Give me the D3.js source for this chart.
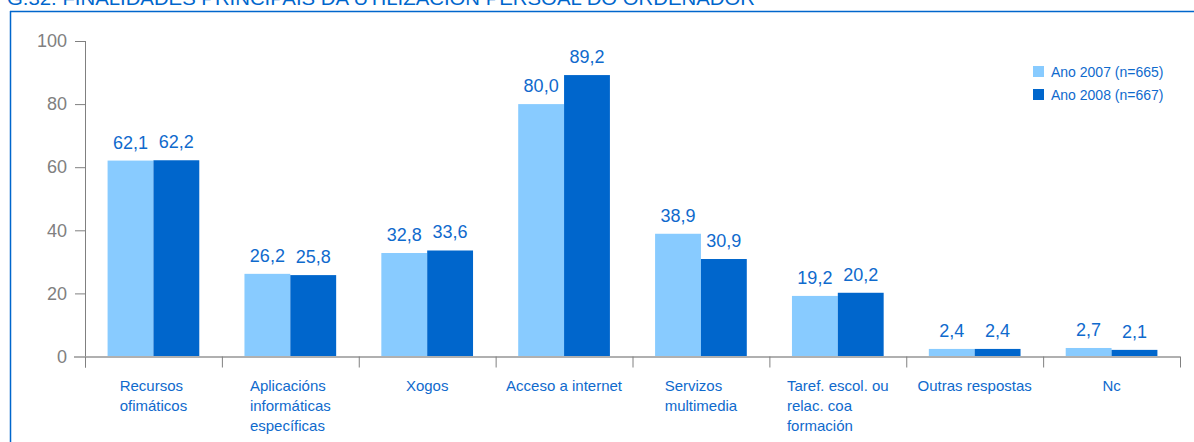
<!DOCTYPE html>
<html>
<head>
<meta charset="utf-8">
<script src="https://cdnjs.cloudflare.com/ajax/libs/d3/7.8.5/d3.min.js"></script>
<style>
  html, body { margin: 0; padding: 0; background: #fff; }
  svg { display: block; font-family: "Liberation Sans", Arial, sans-serif; }
</style>
</head>
<body>
<svg id="chart" width="1194" height="442"></svg>
<script>
const title = "G.32. FINALIDADES PRINCIPAIS DA UTILIZACIÓN PERSOAL DO ORDENADOR";
const categories = [
  ["Recursos", "ofimáticos"],
  ["Aplicacións", "informáticas", "específicas"],
  ["Xogos"],
  ["Acceso a internet"],
  ["Servizos", "multimedia"],
  ["Taref. escol. ou", "relac. coa", "formación"],
  ["Outras respostas"],
  ["Nc"]
];
const seriesNames = ["Ano 2007 (n=665)", "Ano 2008 (n=667)"];
const values2007 = [62.1, 26.2, 32.8, 80.0, 38.9, 19.2, 2.4, 2.7];
const values2008 = [62.2, 25.8, 33.6, 89.2, 30.9, 20.2, 2.4, 2.1];
const yTicks = [0, 20, 40, 60, 80, 100];

const colors = ["#88CBFF", "#0066CC"];
const textBlue = "#0F6ACD";
const gray = "#808080";

const svg = d3.select("#chart");

// frame + title
svg.append("text").attr("x", 7).attr("y", 5)
  .attr("font-size", 18).attr("fill", "#0066CC")
  .attr("textLength", 748).attr("lengthAdjust", "spacingAndGlyphs")
  .text(title);
svg.append("line").attr("x1", 10).attr("x2", 1194).attr("y1", 11.5).attr("y2", 11.5)
  .attr("stroke", "#0066CC").attr("stroke-width", 1.5);
svg.append("line").attr("x1", 10.5).attr("x2", 10.5).attr("y1", 11).attr("y2", 442)
  .attr("stroke", "#0066CC").attr("stroke-width", 1.5);

const left = 85, right = 1180, y0 = 356.5, y100 = 41;
const idx = d3.range(categories.length);
const x0 = d3.scaleBand().domain(idx).range([left, right]).paddingInner(0.33).paddingOuter(0.165);
const x1 = d3.scaleBand().domain([0, 1]).range([0, x0.bandwidth()]);
const y = d3.scaleLinear().domain([0, 100]).range([y0, y100]);

// y axis
const yAxis = d3.axisLeft(y).tickValues(yTicks).tickSize(10).tickPadding(8).tickFormat(d3.format("d"));
const gy = svg.append("g").attr("transform", `translate(${left},0)`).call(yAxis);
gy.select(".domain").remove();
gy.selectAll(".tick line").attr("stroke", gray);
gy.selectAll(".tick text").attr("fill", gray).attr("font-size", 18)
  .attr("font-family", "'Liberation Sans', Arial, sans-serif");
svg.append("line").attr("x1", left + 0.5).attr("x2", left + 0.5).attr("y1", y100).attr("y2", y0 + 11)
  .attr("stroke", gray).attr("stroke-width", 1);

// bars
const series = [values2007, values2008];
series.forEach((vals, s) => {
  svg.append("g").selectAll("rect").data(idx).join("rect")
    .attr("x", i => x0(i) + x1(s))
    .attr("width", x1.bandwidth())
    .attr("y", i => y(vals[i]))
    .attr("height", i => y(0) - y(vals[i]))
    .attr("fill", colors[s]);
  svg.append("g").selectAll("text").data(idx).join("text")
    .attr("x", i => x0(i) + x1(s) + x1.bandwidth() / 2)
    .attr("y", i => y(vals[i]) - 12)
    .attr("text-anchor", "middle")
    .attr("font-size", 18).attr("fill", textBlue)
    .text(i => d3.format(".1f")(vals[i]).replace(".", ","));
});

// x axis
svg.append("line").attr("x1", 74).attr("x2", right).attr("y1", y0 + 0.5).attr("y2", y0 + 0.5)
  .attr("stroke", "#B0B0B0").attr("stroke-width", 2);
const step = x0.step();
svg.append("g").selectAll("line").data(d3.range(categories.length + 1)).join("line")
  .attr("x1", i => left + i * step + 0.5).attr("x2", i => left + i * step + 0.5)
  .attr("y1", y0).attr("y2", y0 + 11)
  .attr("stroke", gray);

// category labels: centered block, left-aligned lines
const tmp = svg.append("text").attr("font-size", 15).attr("visibility", "hidden");
idx.forEach(i => {
  const lines = categories[i];
  let maxW = 0;
  lines.forEach(l => { tmp.text(l); maxW = Math.max(maxW, tmp.node().getComputedTextLength()); });
  const cx = left + (i + 0.5) * step;
  const t = svg.append("text").attr("font-size", 15).attr("fill", textBlue);
  lines.forEach((l, k) => {
    t.append("tspan").attr("x", cx - maxW / 2).attr("y", 391 + k * 20).text(l);
  });
});
tmp.remove();

// legend
seriesNames.forEach((n, s) => {
  svg.append("rect").attr("x", 1033).attr("y", 66 + s * 23).attr("width", 11).attr("height", 11)
    .attr("fill", colors[s]);
  svg.append("text").attr("x", 1051).attr("y", 77 + s * 23).attr("font-size", 14)
    .attr("fill", textBlue).text(n);
});
</script>
</body>
</html>
